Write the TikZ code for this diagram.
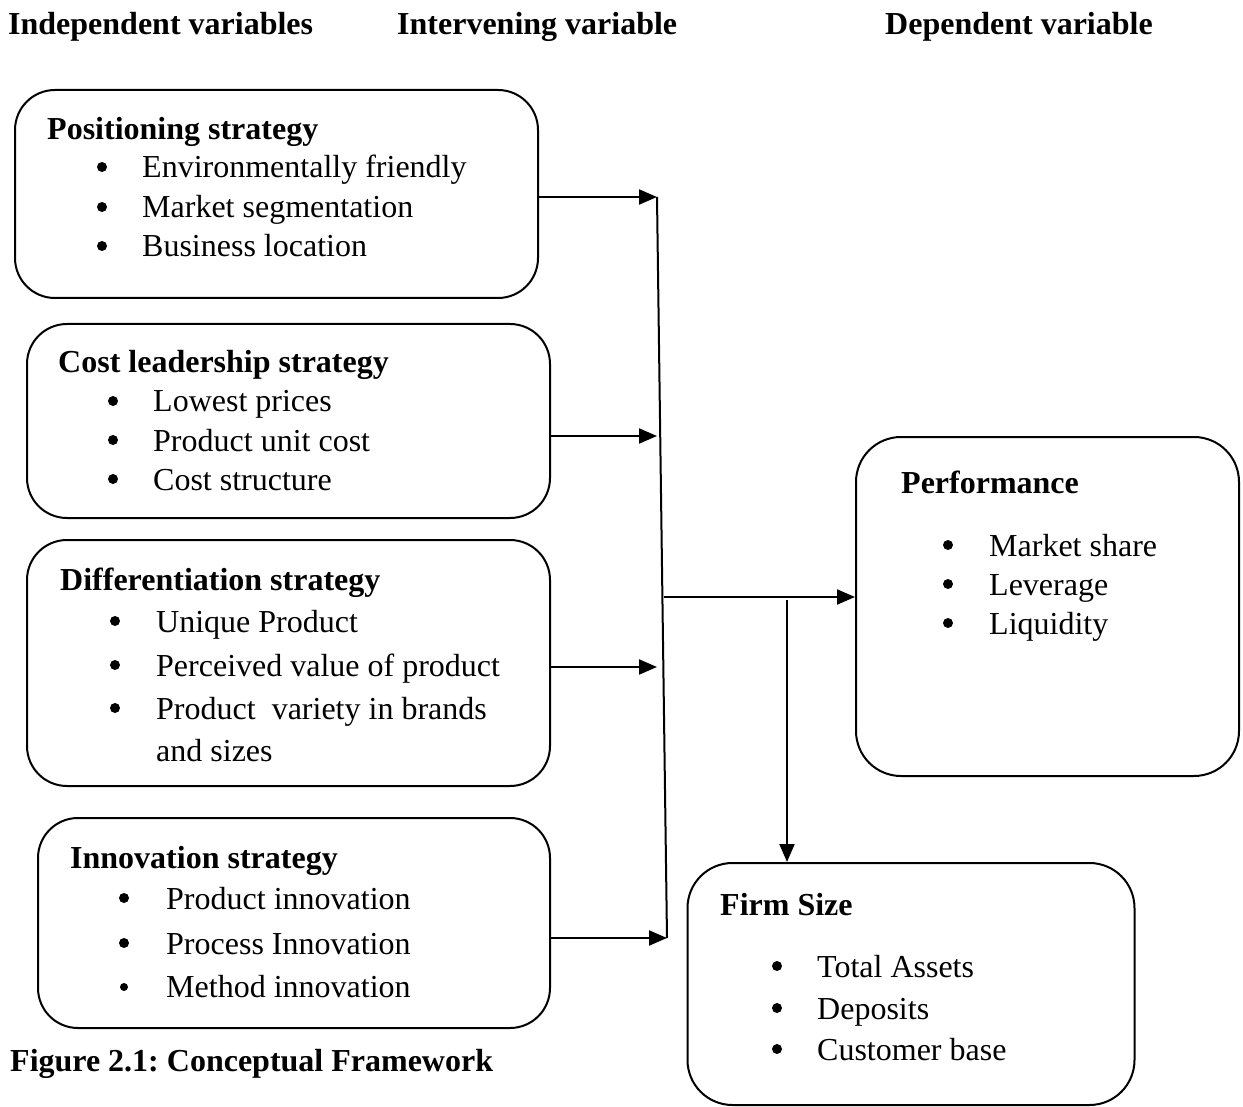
\documentclass[tikz,border=0pt]{standalone}
\usepackage{fontspec}
\setmainfont{Liberation Serif}
\usetikzlibrary{arrows.meta}
\frenchspacing
\tikzset{
  box/.style={draw, line width=2pt, rounded corners=40pt, inner sep=0pt},
  hd/.style={anchor=base west, inner sep=0pt, font=\fontsize{32}{39}\selectfont\bfseries},
  itm/.style={anchor=base west, inner sep=0pt, font=\fontsize{32}{39}\selectfont},
  bul/.style={circle, fill, inner sep=0pt, minimum size=10pt, yshift=11pt},
  conn/.style={line width=2pt},
  arr/.style={line width=2pt, -{Triangle[length=18pt,width=15pt]}}
}
\begin{document}
\frenchspacing
\begin{tikzpicture}[x=1pt,y=-1pt]
\useasboundingbox (0,0) rectangle (1243,1107);
% headers
\node[hd] (h1) at (8,35) {Independent variables};
\node[hd] (h2) at (397,35) {Intervening variable};
\node[hd] (h3) at (885,35) {Dependent variable};
% boxes
\node[box, minimum width=523pt, minimum height=208pt] (p1) at (276.5,194) {};
\node[box, minimum width=523pt, minimum height=194pt] (p2) at (288.5,421) {};
\node[box, minimum width=523pt, minimum height=246pt] (p3) at (288.5,663) {};
\node[box, minimum width=512pt, minimum height=210pt] (p4) at (294,923) {};
\node[box, minimum width=383pt, minimum height=339pt, rounded corners=45pt] (perf) at (1047.5,606.5) {};
\node[box, minimum width=447pt, minimum height=242pt, rounded corners=45pt] (firm) at (911,984) {};
% box 1
\node[hd] (t1) at (47,140) {Positioning strategy};
\node[bul] (b11) at (102,178) {};
\node[itm] (i11) at (142,178) {Environmentally friendly};
\node[bul] (b12) at (102,218) {};
\node[itm] (i12) at (142,218) {Market segmentation};
\node[bul] (b13) at (102,257) {};
\node[itm] (i13) at (142,257) {Business location};
% box 2
\node[hd] (t2) at (58,373) {Cost leadership strategy};
\node[bul] (b21) at (113,412) {};
\node[itm] (i21) at (153,412) {Lowest prices};
\node[bul] (b22) at (113,451) {};
\node[itm] (i22) at (153,451) {Product unit cost};
\node[bul] (b23) at (113,490) {};
\node[itm] (i23) at (153,490) {Cost structure};
% box 3
\node[hd] (t3) at (60,590) {Differentiation strategy};
\node[bul] (b31) at (115,632) {};
\node[itm] (i31) at (156,632) {Unique Product};
\node[bul] (b32) at (115,676) {};
\node[itm] (i32) at (156,676) {Perceived value of product};
\node[bul] (b33) at (115,719) {};
\node[itm] (i33) at (156,719) {Product\ \ variety in brands};
\node[itm] (i34) at (156,761) {and sizes};
% box 4
\node[hd] (t4) at (70,868) {Innovation strategy};
\node[bul] (b41) at (124,909) {};
\node[itm] (i41) at (166,909) {Product innovation};
\node[bul] (b42) at (124,954) {};
\node[itm] (i42) at (166,954) {Process Innovation};
\node[bul, minimum size=8pt, yshift=-1pt] (b43) at (124,997) {};
\node[itm] (i43) at (166,997) {Method innovation};
% performance
\node[hd] (t5) at (901,493) {Performance};
\node[bul] (b51) at (948,556) {};
\node[itm] (i51) at (989,556) {Market share};
\node[bul] (b52) at (948,595) {};
\node[itm] (i52) at (989,595) {Leverage};
\node[bul] (b53) at (948,634) {};
\node[itm] (i53) at (989,634) {Liquidity};
% firm size
\node[hd] (t6) at (720,915) {Firm Size};
\node[bul] (b61) at (777,977) {};
\node[itm] (i61) at (817,977) {Total Assets};
\node[bul] (b62) at (777,1019) {};
\node[itm] (i62) at (817,1019) {Deposits};
\node[bul] (b63) at (777,1060) {};
\node[itm] (i63) at (817,1060) {Customer base};
% caption
\node[hd] (cap) at (10,1071) {Figure 2.1: Conceptual Framework};
% connectors
\coordinate (j1) at (657,197);
\coordinate (j2) at (657,436);
\coordinate (j3) at (657,667);
\coordinate (j4) at (667,938);
\coordinate (m) at (664,597);
\coordinate (d) at (787,600);
\draw[conn] (j1) -- (j4);
\draw[arr] (p1.east |- j1) -- (j1);
\draw[arr] (p2.east |- j2) -- (j2);
\draw[arr] (p3.east |- j3) -- (j3);
\draw[arr] (p4.east |- j4) -- (j4);
\draw[arr] (m) -- (perf.west |- m);
\draw[arr] (d) -- (d |- firm.north);
\end{tikzpicture}
\end{document}
